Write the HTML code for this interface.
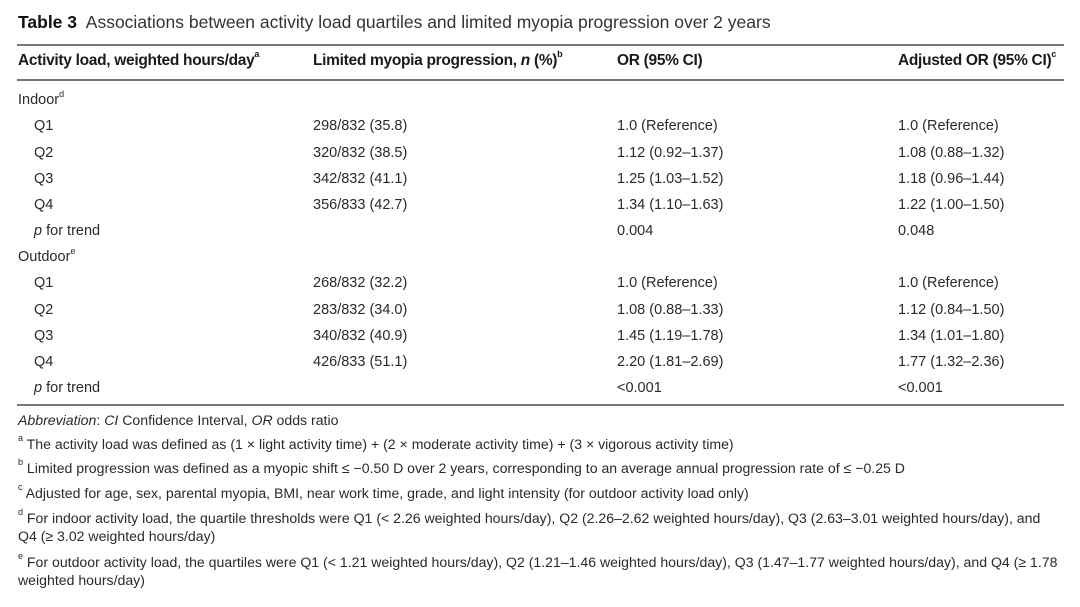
<!DOCTYPE html>
<html><head><meta charset="utf-8"><style>
body{margin:0;width:1080px;height:607px;background:#fff;font-family:"Liberation Sans",sans-serif;color:#2a2a2a;position:relative;overflow:hidden}
.t{position:absolute;white-space:nowrap;font-size:14.5px;line-height:1}
.h{font-weight:bold;font-size:15.5px;color:#1a1a1a;letter-spacing:-0.3px}
.r{position:absolute;left:17px;width:1047px;height:2px;background:#777}
sup{font-size:9px;vertical-align:top;position:relative;top:-3px}
.f{font-size:14.1px}
</style></head><body>
<div class="t" style="left:18px;top:14px;font-size:17.5px;color:#333"><b style="color:#111">Table 3</b>&nbsp; Associations between activity load quartiles and limited myopia progression over 2 years</div>
<div class="r" style="top:44px"></div>
<div class="r" style="top:79px"></div>
<div class="r" style="top:404px"></div>
<div class="t h" style="left:18px;top:53px">Activity load, weighted hours/day<sup>a</sup></div>
<div class="t h" style="left:313px;top:53px">Limited myopia progression, <i>n</i> (%)<sup>b</sup></div>
<div class="t h" style="left:617px;top:53px">OR (95% CI)</div>
<div class="t h" style="left:898px;top:53px">Adjusted OR (95% CI)<sup>c</sup></div>

<div class="t" style="left:18px;top:93px">Indoor<sup>d</sup></div>
<div class="t" style="left:34px;top:119px">Q1</div><div class="t" style="left:313px;top:119px">298/832 (35.8)</div><div class="t" style="left:617px;top:119px">1.0 (Reference)</div><div class="t" style="left:898px;top:119px">1.0 (Reference)</div>
<div class="t" style="left:34px;top:146px">Q2</div><div class="t" style="left:313px;top:146px">320/832 (38.5)</div><div class="t" style="left:617px;top:146px">1.12 (0.92–1.37)</div><div class="t" style="left:898px;top:146px">1.08 (0.88–1.32)</div>
<div class="t" style="left:34px;top:172px">Q3</div><div class="t" style="left:313px;top:172px">342/832 (41.1)</div><div class="t" style="left:617px;top:172px">1.25 (1.03–1.52)</div><div class="t" style="left:898px;top:172px">1.18 (0.96–1.44)</div>
<div class="t" style="left:34px;top:198px">Q4</div><div class="t" style="left:313px;top:198px">356/833 (42.7)</div><div class="t" style="left:617px;top:198px">1.34 (1.10–1.63)</div><div class="t" style="left:898px;top:198px">1.22 (1.00–1.50)</div>
<div class="t" style="left:34px;top:224px"><i>p</i> for trend</div><div class="t" style="left:617px;top:224px">0.004</div><div class="t" style="left:898px;top:224px">0.048</div>
<div class="t" style="left:18px;top:250px">Outdoor<sup>e</sup></div>
<div class="t" style="left:34px;top:276px">Q1</div><div class="t" style="left:313px;top:276px">268/832 (32.2)</div><div class="t" style="left:617px;top:276px">1.0 (Reference)</div><div class="t" style="left:898px;top:276px">1.0 (Reference)</div>
<div class="t" style="left:34px;top:303px">Q2</div><div class="t" style="left:313px;top:303px">283/832 (34.0)</div><div class="t" style="left:617px;top:303px">1.08 (0.88–1.33)</div><div class="t" style="left:898px;top:303px">1.12 (0.84–1.50)</div>
<div class="t" style="left:34px;top:329px">Q3</div><div class="t" style="left:313px;top:329px">340/832 (40.9)</div><div class="t" style="left:617px;top:329px">1.45 (1.19–1.78)</div><div class="t" style="left:898px;top:329px">1.34 (1.01–1.80)</div>
<div class="t" style="left:34px;top:355px">Q4</div><div class="t" style="left:313px;top:355px">426/833 (51.1)</div><div class="t" style="left:617px;top:355px">2.20 (1.81–2.69)</div><div class="t" style="left:898px;top:355px">1.77 (1.32–2.36)</div>
<div class="t" style="left:34px;top:381px"><i>p</i> for trend</div><div class="t" style="left:617px;top:381px">&lt;0.001</div><div class="t" style="left:898px;top:381px">&lt;0.001</div>

<div class="t f" style="left:18px;top:413px"><i>Abbreviation</i>: <i>CI</i> Confidence Interval, <i>OR</i> odds ratio</div>
<div class="t f" style="left:18px;top:437px"><sup>a</sup> The activity load was defined as (1 × light activity time) + (2 × moderate activity time) + (3 × vigorous activity time)</div>
<div class="t f" style="left:18px;top:461px"><sup>b</sup> Limited progression was defined as a myopic shift ≤ −0.50 D over 2 years, corresponding to an average annual progression rate of ≤ −0.25 D</div>
<div class="t f" style="left:18px;top:486px"><sup>c</sup> Adjusted for age, sex, parental myopia, BMI, near work time, grade, and light intensity (for outdoor activity load only)</div>
<div class="t f" style="left:18px;top:511px"><sup>d</sup> For indoor activity load, the quartile thresholds were Q1 (&lt; 2.26 weighted hours/day), Q2 (2.26–2.62 weighted hours/day), Q3 (2.63–3.01 weighted hours/day), and</div>
<div class="t f" style="left:18px;top:529px">Q4 (≥ 3.02 weighted hours/day)</div>
<div class="t f" style="left:18px;top:555px"><sup>e</sup> For outdoor activity load, the quartiles were Q1 (&lt; 1.21 weighted hours/day), Q2 (1.21–1.46 weighted hours/day), Q3 (1.47–1.77 weighted hours/day), and Q4 (≥ 1.78</div>
<div class="t f" style="left:18px;top:573px">weighted hours/day)</div>
</body></html>
